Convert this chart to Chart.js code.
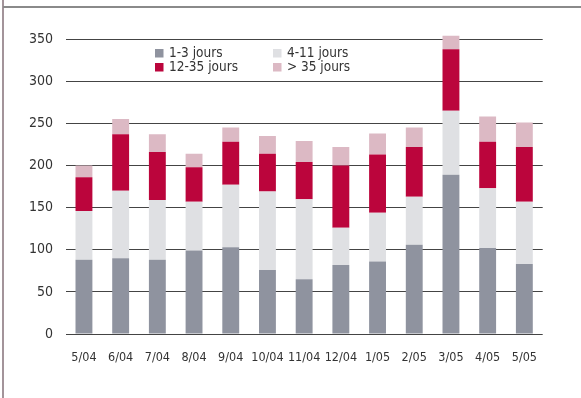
<!DOCTYPE html>
<html>
<head>
<meta charset="utf-8">
<script src="https://cdn.jsdelivr.net/npm/chart.js@4/dist/chart.umd.min.js"></script>
<style>
  html, body { margin: 0; padding: 0; background: #fff; }
  #wrap { position: relative; width: 581px; height: 398px; overflow: hidden; }
  #frameLeft { position: absolute; left: 2px; top: 0; width: 2px; height: 398px; background: #a3949a; }
  #frameTop { position: absolute; left: 3px; top: 6px; width: 578px; height: 2px; background: #8a8a8a; }
  canvas { position: absolute; left: 0; top: 0; }
</style>
</head>
<body>
<div id="wrap">
  <canvas id="c" width="581" height="398"></canvas>
  <div id="frameLeft"></div>
  <div id="frameTop"></div>
</div>
<script>
// Months (mm/yy)
const months = ['5/04', '6/04', '7/04', '8/04', '9/04', '10/04', '11/04', '12/04', '1/05', '2/05', '3/05', '4/05', '5/05'];

// Stacked series by duration
const jours1a3   = [88, 90, 88, 99, 103, 76, 65, 82, 86, 106, 189, 102, 83];
const jours4a11  = [58, 80, 71, 58, 74, 93, 95, 44, 58, 57, 76, 71, 74];
const jours12a35 = [40, 67, 57, 41, 51, 45, 44, 74, 69, 59, 73, 55, 65];
const joursPlus35 = [14, 18, 21, 16, 17, 21, 25, 22, 25, 23, 16, 30, 29];

const seriesLabels = ['1-3 jours', '4-11 jours', '12-35 jours', '> 35 jours'];
const yTicks = [0, 50, 100, 150, 200, 250, 300, 350];

const FONT = "'Liberation Sans Narrow', 'DejaVu Sans Condensed', 'Arial Narrow', sans-serif";
const colors = ['#8f939f', '#dfe0e3', '#bb053c', '#dcb9c4'];

// Two-column legend drawn inside the plot area
const gridLegend = {
  id: 'gridLegend',
  afterDraw(chart) {
    const ctx = chart.ctx;
    const cols = [155, 273];
    const rows = [49, 63];
    ctx.save();
    ctx.font = '13.5px ' + FONT;
    ctx.textBaseline = 'middle';
    ctx.textAlign = 'left';
    chart.data.datasets.forEach((ds, i) => {
      const x = cols[i % 2];
      const y = rows[Math.floor(i / 2)];
      ctx.fillStyle = ds.backgroundColor;
      ctx.fillRect(x, y, 8.5, 8.5);
      ctx.fillStyle = '#333';
      ctx.fillText(ds.label, x + 14, y + 4.5);
    });
    ctx.restore();
  }
};

new Chart(document.getElementById('c'), {
  type: 'bar',
  data: {
    labels: months,
    datasets: [
      { label: seriesLabels[0], data: jours1a3, backgroundColor: colors[0] },
      { label: seriesLabels[1], data: jours4a11, backgroundColor: colors[1] },
      { label: seriesLabels[2], data: jours12a35, backgroundColor: colors[2] },
      { label: seriesLabels[3], data: joursPlus35, backgroundColor: colors[3] }
    ]
  },
  options: {
    responsive: false,
    animation: false,
    devicePixelRatio: 1,
    layout: { padding: { left: 0, right: 38.3, top: 30.6, bottom: 0 } },
    datasets: { bar: { barPercentage: 0.92, categoryPercentage: 0.5, borderWidth: 0 } },
    plugins: {
      legend: { display: false },
      tooltip: { enabled: false }
    },
    scales: {
      x: {
        stacked: true,
        grid: { display: false, drawTicks: false },
        border: { display: false },
        ticks: { color: '#333', font: { family: FONT, size: 12.5 }, padding: 16, maxRotation: 0, autoSkip: false },
        afterFit(scale) { scale.height = 64; }
      },
      y: {
        stacked: true,
        min: 0,
        max: 360,
        ticks: { stepSize: 50, color: '#333', font: { family: FONT, size: 14 }, padding: 12.5 },
        afterBuildTicks(scale) { scale.ticks = yTicks.map(v => ({ value: v })); },
        grid: { color: '#444', lineWidth: 1, drawTicks: false },
        border: { display: false },
        afterFit(scale) { scale.width = 65.6; }
      }
    }
  },
  plugins: [gridLegend]
});
</script>
</body>
</html>
